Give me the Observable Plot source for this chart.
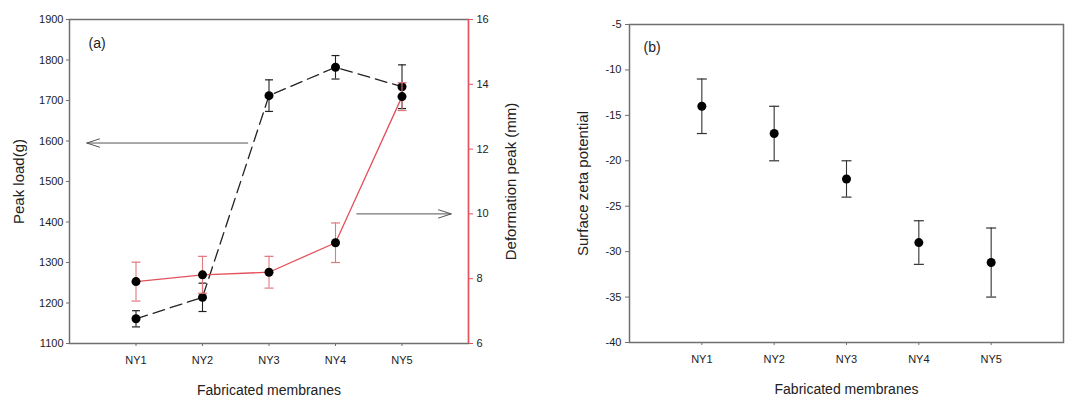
<!DOCTYPE html>
<html><head><meta charset="utf-8">
<script src="https://cdn.jsdelivr.net/npm/d3@7"></script>
<script src="https://cdn.jsdelivr.net/npm/@observablehq/plot@0.6"></script>
<style>
body{margin:0;background:#fff;}
#wrap{position:relative;width:1066px;height:398px;overflow:hidden;}
#wrap svg{position:absolute;top:0;}
</style></head><body><div id="wrap"></div>
<script>
// ---- data ----
const categories = ["NY1", "NY2", "NY3", "NY4", "NY5"];
const peakLoad = [1161, 1214, 1712, 1782, 1734];
const peakLoadErr = [20, 35, 39, 29, 54];
const deformation = [7.91, 8.12, 8.2, 9.11, 13.62];
const deformationErr = [0.6, 0.57, 0.49, 0.61, 0.43];
const zeta = [-14, -17, -22, -29, -31.2];
const zetaErr = [3, 3, 2, 2.4, 3.8];
const loadTicks = [1100, 1200, 1300, 1400, 1500, 1600, 1700, 1800, 1900];
const deformTicks = [6, 8, 10, 12, 14, 16];
const zetaTicks = [-40, -35, -30, -25, -20, -15, -10, -5];
const xDomain = [0, 6];
// annotation arrows (data space)
const loadArrow = [{x1: 2.68, y1: 1595, x2: 0.26, y2: 1595}];
const deformArrow = [{x1: 4.32, y1: 10, x2: 5.74, y2: 10}];

const rows = (vals, errs) => categories.map((c, i) => ({cat: c, pos: i + 1, v: vals[i], lo: vals[i] - errs[i], hi: vals[i] + errs[i]}));
const loadRows = rows(peakLoad, peakLoadErr);
const deformRows = rows(deformation, deformationErr);
const zetaRows = rows(zeta, zetaErr);

const capSymbol = {draw(ctx, size) { const r = Math.sqrt(size / Math.PI); ctx.moveTo(-r, 0); ctx.lineTo(r, 0); }};
const FONT = '"Liberation Sans", Arial, sans-serif';
const GRAY = "#6f6f6f";
const RED = "#e4515c";
const RED_ERR = "#e07a80";
const style = {fontFamily: FONT, fontSize: "11px", color: "#222", background: "transparent", overflow: "visible"};
const xTickFmt = i => categories[i - 1];
const numFmt = d => String(d);

const errMarks = (data, color, capR) => [
  Plot.ruleX(data, {x: "pos", y1: "lo", y2: "hi", stroke: color, strokeWidth: 1.1}),
  Plot.dot(data, {x: "pos", y: "lo", symbol: capSymbol, r: capR, stroke: color, fill: "none", strokeWidth: 1.2}),
  Plot.dot(data, {x: "pos", y: "hi", symbol: capSymbol, r: capR, stroke: color, fill: "none", strokeWidth: 1.2})
];

const wrap = document.getElementById("wrap");

// Left panel, layer 1: peak load (left axis)
const pA = Plot.plot({
  width: 560, height: 398,
  marginLeft: 69, marginRight: 92, marginTop: 19, marginBottom: 55,
  style,
  x: {domain: xDomain},
  y: {domain: [loadTicks[0], loadTicks[loadTicks.length - 1]]},
  marks: [
    Plot.frame({stroke: GRAY, strokeWidth: 1.5}),
    Plot.axisY({ticks: loadTicks, tickFormat: numFmt, tickSize: 3, tickPadding: 3, stroke: GRAY, label: null}),
    Plot.axisX({ticks: [1, 2, 3, 4, 5], tickFormat: xTickFmt, tickSize: 3, tickPadding: 10, stroke: GRAY, label: null}),
    Plot.text(["Peak load(g)"], {frameAnchor: "left", dx: -50, rotate: -90, fontSize: 15, textAnchor: "middle", lineAnchor: "middle"}),
    Plot.text(["Fabricated membranes"], {frameAnchor: "bottom", dy: 47, fontSize: 14, textAnchor: "middle", lineAnchor: "middle"}),
    Plot.text(["(a)"], {frameAnchor: "top-left", dx: 19, dy: 24, fontSize: 14, textAnchor: "start", lineAnchor: "middle"}),
    Plot.arrow(loadArrow, {x1: "x1", y1: "y1", x2: "x2", y2: "y2", stroke: "#555", strokeWidth: 1, headLength: 20, headAngle: 36}),
    ...errMarks(loadRows, "#222", 4),
    Plot.line(loadRows, {x: "pos", y: "v", stroke: "#222", strokeWidth: 1.3, strokeDasharray: "12,6"}),
    Plot.dot(loadRows, {x: "pos", y: "v", r: 4.5, fill: "#000"})
  ]
});
pA.style.left = "0px";
wrap.appendChild(pA);

// Left panel, layer 2: deformation (right axis)
const pB = Plot.plot({
  width: 560, height: 398,
  marginLeft: 69, marginRight: 92, marginTop: 19, marginBottom: 55,
  style,
  x: {domain: xDomain, axis: null},
  y: {domain: [deformTicks[0], deformTicks[deformTicks.length - 1]]},
  marks: [
    Plot.ruleX([xDomain[1]], {stroke: RED, strokeWidth: 1.2}),
    Plot.axisY({anchor: "right", ticks: deformTicks, tickFormat: numFmt, tickSize: 4, tickPadding: 4, stroke: RED, fill: "#222", label: null}),
    Plot.text(["Deformation peak (mm)"], {frameAnchor: "right", dx: 43, rotate: -90, fontSize: 15, textAnchor: "middle", lineAnchor: "middle"}),
    Plot.arrow(deformArrow, {x1: "x1", y1: "y1", x2: "x2", y2: "y2", stroke: "#555", strokeWidth: 1, headLength: 20, headAngle: 36}),
    ...errMarks(deformRows, RED_ERR, 4.5),
    Plot.line(deformRows, {x: "pos", y: "v", stroke: RED, strokeWidth: 1.3}),
    Plot.dot(deformRows, {x: "pos", y: "v", r: 4.5, fill: "#000"})
  ]
});
pB.style.left = "0px";
wrap.appendChild(pB);

// Right panel: zeta potential
const pC = Plot.plot({
  width: 506, height: 398,
  marginLeft: 69, marginRight: 3, marginTop: 24, marginBottom: 56,
  style,
  x: {domain: xDomain},
  y: {domain: [zetaTicks[0], zetaTicks[zetaTicks.length - 1]]},
  marks: [
    Plot.frame({stroke: GRAY, strokeWidth: 1.5}),
    Plot.axisY({ticks: zetaTicks, tickFormat: numFmt, tickSize: 4, tickPadding: 4, stroke: GRAY, label: null}),
    Plot.axisX({ticks: [1, 2, 3, 4, 5], tickFormat: xTickFmt, tickSize: 3, tickPadding: 10, stroke: GRAY, label: null}),
    Plot.text(["Surface zeta potential"], {frameAnchor: "left", dx: -46, rotate: -90, fontSize: 15, textAnchor: "middle", lineAnchor: "middle"}),
    Plot.text(["Fabricated membranes"], {frameAnchor: "bottom", dy: 47, fontSize: 14, textAnchor: "middle", lineAnchor: "middle"}),
    Plot.text(["(b)"], {frameAnchor: "top-left", dx: 14, dy: 23, fontSize: 14, textAnchor: "start", lineAnchor: "middle"}),
    ...errMarks(zetaRows, "#333", 5),
    Plot.dot(zetaRows, {x: "pos", y: "v", r: 4.5, fill: "#000"})
  ]
});
pC.style.left = "560px";
wrap.appendChild(pC);
</script>
</body></html>
